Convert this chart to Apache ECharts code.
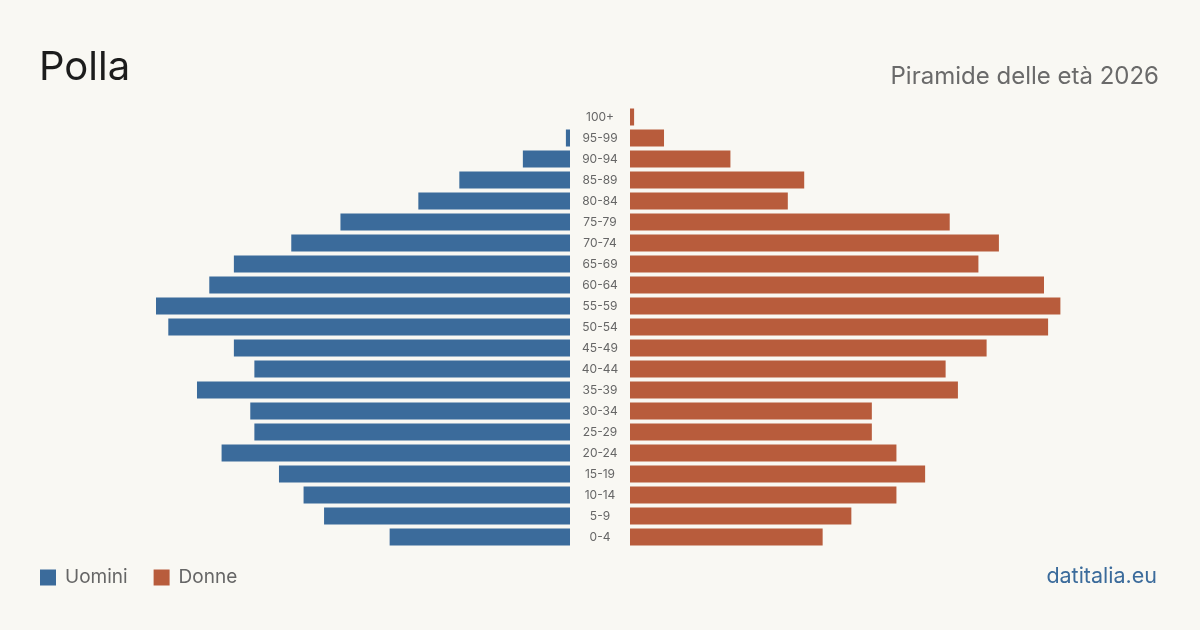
<!DOCTYPE html>
<html>
<head>
<meta charset="utf-8">
<script src="https://cdn.jsdelivr.net/npm/echarts@6/dist/echarts.min.js"></script>
<style>
html,body{margin:0;padding:0;background:#f9f8f3;}
#c{width:1200px;height:630px;}
</style>
</head>
<body>
<div id="c"></div>
<script>
const categories = ['0-4','5-9','10-14','15-19','20-24','25-29','30-34','35-39','40-44','45-49','50-54','55-59','60-64','65-69','70-74','75-79','80-84','85-89','90-94','95-99','100+'];
const men =   [44, 60, 65, 71, 85, 77, 78, 91, 77, 82, 98, 101, 88, 82, 68, 56, 37, 27, 11.5, 1, 0];
const women = [47, 54, 65, 72, 65, 59, 59, 80, 77, 87, 102, 105, 101, 85, 90, 78, 38.5, 42.5, 24.5, 8.3, 1];
const axisMax = 129.3;
const FONT = 'Inter, "Noto Sans", sans-serif';
const chart = echarts.init(document.getElementById('c'));
chart.setOption({
  backgroundColor: '#f9f8f3',
  animation: false,
  title: [
    {text: 'Polla', left: 34, top: 43, textStyle: {fontFamily: FONT, fontSize: 40, fontWeight: 'normal', color: '#1c1c1c'}},
    {text: 'Piramide delle età 2026', right: 36, top: 60, textStyle: {fontFamily: FONT, fontSize: 24, fontWeight: 'normal', color: '#6a6a6a'}},
    {text: 'datitalia.eu', right: 38, top: 561, textStyle: {fontFamily: FONT, fontSize: 21.5, fontWeight: 'normal', color: '#3b6b9b'}}
  ],
  legend: {
    left: 35, top: 563, icon: 'rect', itemWidth: 16, itemHeight: 16, itemGap: 26,
    textStyle: {fontFamily: FONT, fontSize: 19, color: '#666', padding: [0, 0, 0, 4]},
    data: ['Uomini', 'Donne']
  },
  grid: [
    {left: 40, width: 530, top: 106.5, height: 441},
    {left: 630, width: 530, top: 106.5, height: 441}
  ],
  xAxis: [
    {gridIndex: 0, type: 'value', inverse: true, min: 0, max: axisMax, show: false},
    {gridIndex: 1, type: 'value', min: 0, max: axisMax, show: false}
  ],
  yAxis: [
    {gridIndex: 0, type: 'category', data: categories, position: 'right', axisLine: {show: false}, axisTick: {show: false}, axisLabel: {show: false}},
    {gridIndex: 1, type: 'category', data: categories, position: 'left', axisLine: {show: false}, axisTick: {show: false},
     axisLabel: {align: 'center', margin: 30, fontFamily: FONT, fontSize: 12, color: '#666'}}
  ],
  series: [
    {name: 'Uomini', type: 'bar', xAxisIndex: 0, yAxisIndex: 0, data: men, barWidth: 17, itemStyle: {color: '#3b6b9b'}},
    {name: 'Donne', type: 'bar', xAxisIndex: 1, yAxisIndex: 1, data: women, barWidth: 17, itemStyle: {color: '#b85c3c'}}
  ]
});
</script>
</body>
</html>
